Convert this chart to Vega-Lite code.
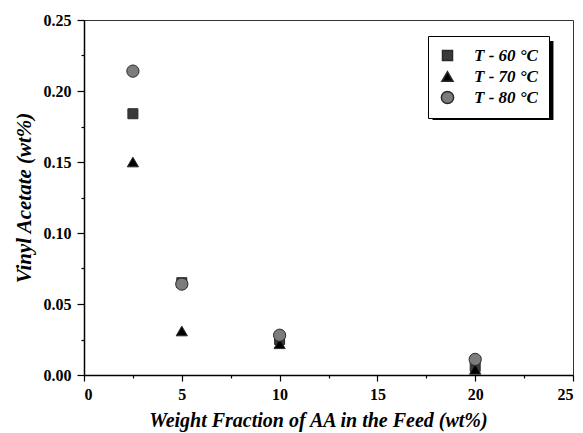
{
  "$schema": "https://vega.github.io/schema/vega-lite/v6.json",
  "width": 489,
  "height": 355,
  "autosize": {"type": "none"},
  "padding": {"left": 84, "top": 20, "right": 10, "bottom": 58},
  "background": "white",
  "config": {
    "view": {"stroke": "#333", "strokeWidth": 1},
    "font": "Liberation Serif",
    "axis": {
      "domainColor": "black", "domainWidth": 1.5, "tickColor": "black", "tickWidth": 1.2,
      "grid": false, "labelFont": "Liberation Serif", "labelFontWeight": "bold", "labelFontSize": 16,
      "labelColor": "black", "titleFont": "Liberation Serif", "titleFontWeight": "bold",
      "titleFontStyle": "italic", "titleColor": "black"
    }
  },
  "data": {"values": [
    {"feed": 2.5, "va": 0.184, "T": "T - 60 °C"},
    {"feed": 5, "va": 0.065, "T": "T - 60 °C"},
    {"feed": 10, "va": 0.025, "T": "T - 60 °C"},
    {"feed": 20, "va": 0.006, "T": "T - 60 °C"},
    {"feed": 2.5, "va": 0.150, "T": "T - 70 °C"},
    {"feed": 5, "va": 0.031, "T": "T - 70 °C"},
    {"feed": 10, "va": 0.022, "T": "T - 70 °C"},
    {"feed": 20, "va": 0.004, "T": "T - 70 °C"},
    {"feed": 2.5, "va": 0.214, "T": "T - 80 °C"},
    {"feed": 5, "va": 0.064, "T": "T - 80 °C"},
    {"feed": 10, "va": 0.028, "T": "T - 80 °C"},
    {"feed": 20, "va": 0.011, "T": "T - 80 °C"}
  ]},
  "resolve": {"axis": {"x": "independent", "y": "independent"}},
  "layer": [
    {
      "mark": {"type": "rect", "color": "black"},
      "encoding": {
        "x": {"datum": 17.84, "type": "quantitative", "scale": {"domain": [0, 25], "nice": false},
          "axis": {"values": [0, 5, 10, 15, 20, 25], "title": "Weight Fraction of AA in the Feed (wt%)", "titleFontSize": 20, "titleX": 234, "tickSize": 6, "labelPadding": 5, "titlePadding": 8}},
        "x2": {"datum": 23.98},
        "y": {"datum": 0.2352, "type": "quantitative", "scale": {"domain": [0, 0.25], "nice": false},
          "axis": {"values": [0, 0.05, 0.1, 0.15, 0.2, 0.25], "format": ".2f", "title": "Vinyl Acetate (wt%)", "titleFontSize": 21, "tickSize": 7, "labelPadding": 6, "titlePadding": 9}},
        "y2": {"datum": 0.1796}
      }
    },
    {
      "mark": {"type": "point", "filled": true, "opacity": 1, "strokeWidth": 1},
      "encoding": {
        "x": {"field": "feed", "type": "quantitative", "axis": null},
        "y": {"field": "va", "type": "quantitative", "axis": null},
        "color": {"field": "T", "type": "nominal", "scale": {"range": ["#3a3a3a", "#000000", "#7c7c7c"]},
          "legend": {"title": null, "orient": "none", "legendX": 344, "legendY": 16, "strokeColor": "black", "fillColor": "white", "padding": 11, "labelFont": "Liberation Serif", "labelFontSize": 17, "labelFontWeight": "bold", "labelFontStyle": "italic", "labelColor": "black", "rowPadding": 3, "labelOffset": 18}},
        "shape": {"field": "T", "type": "nominal", "scale": {"range": ["square", "triangle-up", "circle"]}},
        "size": {"field": "T", "type": "nominal", "scale": {"range": [100, 150, 121]}},
        "stroke": {"value": "#2a2a2a"}
      }
    },
    {
      "mark": {"type": "point", "opacity": 0},
      "encoding": {
        "x": {"field": "feed", "type": "quantitative", "scale": {"domain": [0, 25], "nice": false},
          "axis": {"orient": "bottom", "values": [2.5, 7.5, 12.5, 17.5, 22.5], "labels": false, "title": null, "domain": false, "tickSize": 3}},
        "y": {"field": "va", "type": "quantitative", "scale": {"domain": [0, 0.25], "nice": false},
          "axis": {"orient": "left", "values": [0.025, 0.075, 0.125, 0.175, 0.225], "labels": false, "title": null, "domain": false, "tickSize": 3}}
      }
    }
  ]
}
